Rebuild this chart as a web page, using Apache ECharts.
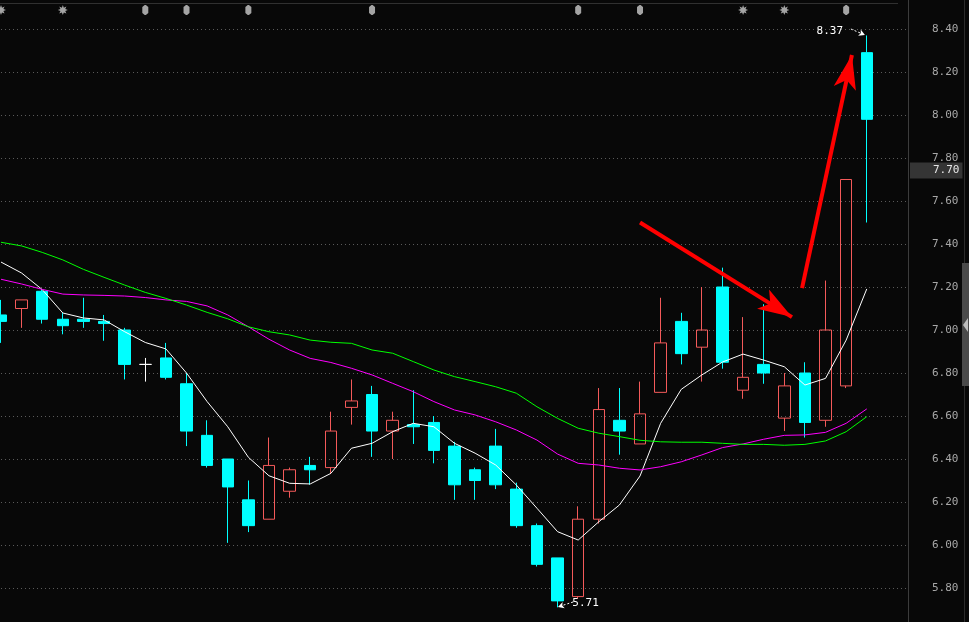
<!DOCTYPE html>
<html>
<head>
<meta charset="utf-8">
<script src="https://cdn.jsdelivr.net/npm/echarts@6/dist/echarts.min.js"></script>
<style>
html,body{margin:0;padding:0;background:#080808;overflow:hidden;}
#c{width:969px;height:622px;}
</style>
</head>
<body>
<div id="c"></div>
<script>
// ---------- data ----------
const categories = ['1','2','3','4','5','6','7','8','9','10','11','12','13','14','15','16','17','18','19','20','21','22','23','24','25','26','27','28','29','30','31','32','33','34','35','36','37','38','39','40','41','42','43'];
const openP  = [7.07,7.10,7.18,7.05,7.05,7.04,7.00,6.84,6.87,6.75,6.51,6.40,6.21,6.12,6.25,6.37,6.36,6.64,6.70,6.53,6.56,6.57,6.46,6.35,6.46,6.26,6.09,5.94,5.76,6.12,6.58,6.47,6.71,7.04,6.92,7.20,6.72,6.84,6.59,6.80,6.58,6.74,8.29];
const closeP = [7.04,7.14,7.05,7.02,7.04,7.03,6.84,6.84,6.78,6.53,6.37,6.27,6.09,6.37,6.35,6.35,6.53,6.67,6.53,6.58,6.55,6.44,6.28,6.30,6.28,6.09,5.91,5.74,6.12,6.63,6.53,6.61,6.94,6.89,7.00,6.85,6.78,6.80,6.74,6.57,7.00,7.70,7.98];
const lowP   = [6.94,7.01,7.03,6.98,7.01,6.95,6.77,6.76,6.77,6.46,6.36,6.01,6.06,6.12,6.22,6.28,6.33,6.56,6.41,6.40,6.47,6.38,6.21,6.21,6.26,6.08,5.90,5.71,5.75,6.10,6.42,6.47,6.71,6.84,6.76,6.82,6.68,6.75,6.53,6.50,6.55,6.73,7.50];
const highP  = [7.14,7.14,7.19,7.08,7.15,7.07,7.01,6.87,6.94,6.80,6.58,6.40,6.30,6.50,6.36,6.41,6.62,6.77,6.74,6.62,6.72,6.60,6.48,6.36,6.54,6.29,6.10,5.94,6.18,6.73,6.73,6.76,7.15,7.08,7.20,7.29,7.06,7.12,6.80,6.85,7.23,7.70,8.37];

const maWhite   = [7.316,7.265,7.188,7.079,7.056,7.047,6.992,6.942,6.912,6.800,6.667,6.550,6.408,6.322,6.287,6.284,6.333,6.450,6.473,6.527,6.566,6.550,6.473,6.427,6.372,6.279,6.171,6.062,6.023,6.108,6.186,6.321,6.566,6.724,6.791,6.851,6.888,6.860,6.829,6.744,6.775,6.953,7.191];
const maMagenta = [7.236,7.214,7.189,7.167,7.163,7.161,7.158,7.151,7.140,7.133,7.112,7.070,7.015,6.957,6.907,6.868,6.849,6.822,6.791,6.752,6.713,6.667,6.628,6.605,6.573,6.535,6.488,6.423,6.380,6.372,6.357,6.349,6.364,6.387,6.419,6.453,6.470,6.492,6.510,6.512,6.524,6.566,6.633];
const maGreen   = [7.408,7.391,7.361,7.326,7.282,7.245,7.209,7.175,7.147,7.116,7.082,7.052,7.015,6.992,6.977,6.953,6.943,6.938,6.907,6.892,6.853,6.814,6.783,6.760,6.736,6.706,6.643,6.589,6.543,6.520,6.504,6.487,6.480,6.478,6.478,6.473,6.468,6.468,6.464,6.468,6.484,6.527,6.597];

const yMin = 5.6, yMax = 8.6, yStep = 0.2;   // axis labels 5.80 ... 8.40 visible

const markerIdx  = [0,3,7,9,12,18,28,31,36,38,41];
const markerKind = ['star','star','bar','bar','bar','bar','bar','bar','star','star','bar'];

const highMark = {idx: 42, value: 8.37};
const lowMark  = {idx: 27, value: 5.71};
const priceTag = 7.70;

// hand-drawn red arrows (data space: [index, price]), second point = tip
const arrowDown = [[31.0, 7.50], [38.37, 7.06]];
const arrowUp   = [[38.86, 7.195], [41.28, 8.279]];
// small pointers next to the high / low labels
const highPointer = [[41.23, 8.40], [41.91, 8.372]];
const lowPointer  = [[27.75, 5.735], [27.02, 5.712]];

// ---------- build ----------
const padCats = ['pad1','pad2'];
const allCats = categories.concat(padCats);
const candleData = openP.map((o, i) => [o, closeP[i], lowP[i], highP[i]]);

function starPath() {
  const pts = [];
  for (let i = 0; i < 16; i++) {
    const r = i % 2 ? 2.6 : 5;
    const a = Math.PI * i / 8;
    pts.push((5 + r * Math.sin(a)).toFixed(2) + ',' + (5 - r * Math.cos(a)).toFixed(2));
  }
  return 'path://M' + pts.join(' L') + ' Z';
}
const barPath = 'path://M2,0 L3,0 L5,2 L5,8 L3,10 L2,10 L0,8 L0,2 Z';
const markerY = 8.488;

const markerData = markerIdx.map((idx, i) => ({
  value: [idx, markerY],
  symbol: markerKind[i] === 'star' ? starPath() : barPath,
  symbolSize: markerKind[i] === 'star' ? [10, 10] : [6, 10]
}));

const RED = '#f45a5a', CYAN = '#00ffff';
const monoFont = 'DejaVu Sans Mono';

const chart = echarts.init(document.getElementById('c'), null, {renderer: 'canvas'});
chart.setOption({
  backgroundColor: '#080808',
  animation: false,
  grid: {left: 1, right: 61, top: -14, bottom: -9, containLabel: false, outerBoundsMode: 'none'},
  xAxis: [
    {type: 'category', data: allCats, boundaryGap: false, show: false},
    {type: 'value', min: 0, max: allCats.length - 1, show: false}
  ],
  yAxis: {
    type: 'value', position: 'right', min: yMin, max: yMax, interval: yStep,
    axisLine: {show: true, onZero: false, lineStyle: {color: '#3c3c3c', width: 1}},
    axisTick: {show: false},
    axisLabel: {
      color: '#a8a8a8', fontFamily: monoFont, fontSize: 11, margin: 24, align: 'left',
      formatter: v => v.toFixed(2)
    },
    splitLine: {show: true, lineStyle: {color: '#5a5a5a', width: 1, type: [1, 3]}}
  },
  series: [
    {
      type: 'candlestick', data: candleData, barWidth: 12, clip: false, z: 2,
      itemStyle: {
        color: 'transparent', color0: CYAN,
        borderColor: RED, borderColor0: CYAN, borderColorDoji: '#ffffff', borderWidth: 1
      },
      markPoint: {
        silent: true, symbolSize: 0,
        data: [
          {coord: [highMark.idx, highMark.value], label: {show: true, formatter: highMark.value.toFixed(2), offset: [-37, -4.5]}},
          {coord: [lowMark.idx, lowMark.value], label: {show: true, formatter: lowMark.value.toFixed(2), offset: [28, -4.5]}}
        ],
        label: {color: '#ffffff', fontFamily: monoFont, fontSize: 11, position: 'inside'}
      },
      markLine: {
        silent: true, symbol: 'none',
        lineStyle: {color: 'rgba(0,0,0,0)', width: 1},
        data: [{yAxis: priceTag}],
        label: {
          show: true, position: 'end', distance: 2, formatter: priceTag.toFixed(2),
          color: '#e6e6e6', fontFamily: monoFont, fontSize: 11,
          backgroundColor: '#353535', padding: [3, 3, 2, 23], offset: [0, -9]
        }
      }
    },
    {type: 'line', data: maWhite, showSymbol: false, z: 3, lineStyle: {color: '#ffffff', width: 1}, silent: true},
    {type: 'line', data: maMagenta, showSymbol: false, z: 3, lineStyle: {color: '#ff00ff', width: 1}, silent: true},
    {type: 'line', data: maGreen, showSymbol: false, z: 3, lineStyle: {color: '#00ff00', width: 1}, silent: true},
    {type: 'scatter', data: markerData, itemStyle: {color: '#cccccc'}, z: 4, silent: true},
    {
      type: 'scatter', xAxisIndex: 1, data: [[0, yMin]], symbolSize: 0, z: 5, silent: true,
      markLine: {
        silent: true, animation: false,
        label: {show: false},
        symbol: ['none', 'arrow'],
        symbolSize: [17, 34],
        lineStyle: {color: '#ff0000', width: 4, type: 'solid'},
        data: [
          [{coord: arrowDown[0]}, {coord: arrowDown[1]}],
          [{coord: arrowUp[0]}, {coord: arrowUp[1]}]
        ]
      }
    },
    {
      type: 'scatter', xAxisIndex: 1, data: [[0, yMin]], symbolSize: 0, z: 5, silent: true,
      markLine: {
        silent: true, animation: false,
        label: {show: false},
        symbol: ['none', 'arrow'],
        symbolSize: [5, 6],
        lineStyle: {color: '#ffffff', width: 1, type: [2, 2]},
        data: [
          [{coord: highPointer[0]}, {coord: highPointer[1]}],
          [{coord: lowPointer[0]}, {coord: lowPointer[1]}]
        ]
      }
    }
  ],
  graphic: [
    {type: 'line', silent: true, shape: {x1: 0, y1: 3.5, x2: 898, y2: 3.5}, style: {stroke: '#303030', lineWidth: 1}},
    {type: 'line', silent: true, shape: {x1: 964.5, y1: 0, x2: 964.5, y2: 622}, style: {stroke: '#2c2c2c', lineWidth: 1}},
    {type: 'rect', silent: true, shape: {x: 962, y: 263, width: 7, height: 123}, style: {fill: '#4a4a4a'}},
    {type: 'polygon', silent: true, shape: {points: [[963, 325], [968, 318], [968, 332]]}, style: {fill: '#bdbdbd'}}
  ]
});
</script>
</body>
</html>
